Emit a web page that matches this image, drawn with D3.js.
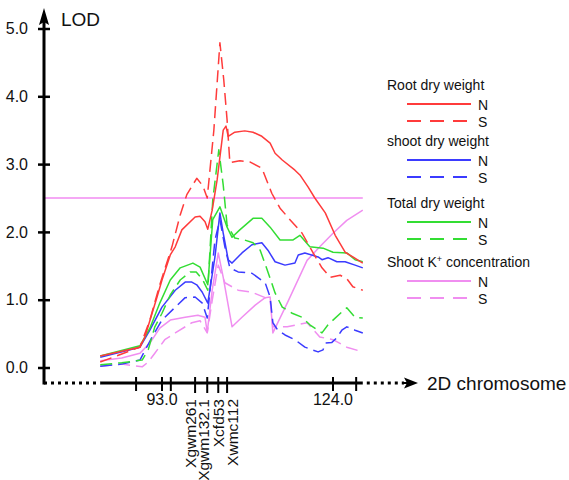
<!DOCTYPE html>
<html><head><meta charset="utf-8">
<script src="https://cdn.jsdelivr.net/npm/d3@7"></script>
<style>body{margin:0;background:#fff}svg{display:block}text{font-family:"Liberation Sans",Arial,sans-serif;fill:#111}</style>
</head><body><svg id="c" width="569" height="480"></svg>
<script>
// ---- data (position in cM, LOD) ----
const rootN = [[81.8,0.17],[89.0,0.30],[89.9,0.45],[92.1,1.04],[93.0,1.29],[94.5,1.66],[95.4,1.78],[96.6,2.03],[99.0,2.22],[99.9,2.23],[100.8,2.15],[101.3,2.04],[102.1,2.32],[103.0,2.77],[104.1,3.50],[104.6,3.56],[105.0,3.41],[106.2,3.47],[108.0,3.49],[109.5,3.47],[111.1,3.41],[112.6,3.31],[113.5,3.16],[114.8,3.06],[117.1,2.91],[118.0,2.84],[119.5,2.66],[120.7,2.50],[122.6,2.28],[124.4,1.95],[126.2,1.70],[127.6,1.63],[129.4,1.54]];
const rootS = [[81.8,0.08],[85.7,0.20],[89.0,0.30],[90.8,0.70],[92.6,1.22],[94.8,1.78],[96.3,2.25],[97.5,2.55],[99.3,2.79],[100.4,2.68],[101.2,2.50],[102.4,3.50],[103.5,4.79],[104.2,4.24],[104.8,3.65],[105.3,3.02],[107.1,3.05],[109.0,3.03],[111.1,2.94],[112.9,2.57],[114.4,2.35],[116.2,2.18],[118.4,1.98],[120.4,1.69],[122.0,1.47],[123.5,1.33],[125.3,1.36],[126.5,1.31],[127.6,1.19],[129.4,1.14]];
const shootN = [[81.8,0.15],[89.0,0.30],[90.8,0.55],[93.0,0.89],[95.4,1.14],[97.2,1.26],[98.4,1.26],[99.3,1.22],[100.3,1.11],[101.3,0.95],[102.6,1.63],[103.5,2.28],[104.1,1.98],[105.0,1.59],[105.7,1.54],[107.5,1.69],[109.3,1.81],[111.1,1.84],[112.2,1.73],[113.5,1.56],[115.3,1.51],[117.1,1.54],[117.7,1.66],[118.9,1.69],[121.3,1.63],[122.0,1.59],[123.1,1.62],[124.7,1.56],[126.2,1.56],[128.0,1.51],[129.4,1.47]];
const shootS = [[81.8,0.02],[85.7,0.05],[89.0,0.11],[91.2,0.45],[93.0,0.70],[95.4,0.89],[97.2,1.03],[99.0,1.04],[100.3,0.95],[101.2,0.73],[102.6,1.88],[103.5,2.18],[104.4,1.78],[105.3,1.47],[106.8,1.41],[109.3,1.39],[111.7,1.25],[112.6,1.04],[113.1,0.66],[114.0,0.55],[115.3,0.48],[117.1,0.41],[118.9,0.30],[121.3,0.23],[122.2,0.26],[122.6,0.36],[123.8,0.37],[124.7,0.44],[125.6,0.55],[126.5,0.60],[128.0,0.55],[129.4,0.51]];
const totalN = [[81.8,0.17],[89.0,0.32],[90.8,0.58],[92.6,0.95],[94.5,1.29],[96.3,1.47],[98.6,1.54],[99.9,1.48],[101.3,1.22],[102.2,2.18],[103.5,2.37],[104.8,2.07],[105.7,1.92],[107.1,2.03],[109.5,2.20],[111.1,2.20],[112.6,2.07],[114.4,1.88],[116.7,1.88],[118.0,1.95],[119.8,1.78],[122.2,1.76],[124.0,1.70],[126.5,1.69],[128.0,1.59],[129.4,1.56]];
const totalS = [[81.8,0.04],[85.7,0.07],[89.4,0.11],[90.5,0.26],[91.7,0.60],[93.0,0.80],[94.5,1.07],[96.3,1.29],[98.1,1.41],[99.2,1.41],[100.4,1.29],[101.3,1.14],[102.2,2.47],[103.3,3.21],[104.1,2.69],[104.8,2.10],[106.2,1.91],[108.0,1.88],[109.5,1.84],[110.8,1.73],[112.2,1.41],[113.5,1.10],[114.8,0.89],[116.6,0.80],[118.4,0.74],[119.8,0.63],[122.0,0.51],[123.1,0.63],[125.6,0.82],[126.5,0.88],[128.0,0.74],[129.4,0.73]];
const kN = [[81.8,0.10],[85.7,0.14],[89.0,0.21],[90.8,0.36],[92.6,0.58],[94.5,0.70],[97.2,0.74],[99.5,0.77],[100.8,0.74],[101.2,0.52],[102.1,1.14],[103.2,1.69],[104.1,1.33],[105.7,0.60],[107.5,0.74],[109.9,0.92],[111.7,1.03],[112.6,1.04],[113.1,0.51],[115.7,0.95],[119.3,1.58],[121.6,1.78],[124.0,1.98],[126.5,2.17],[129.4,2.32]];
const kS = [[81.8,0.02],[85.7,0.05],[89.4,0.01],[90.5,0.08],[91.7,0.21],[93.5,0.41],[95.4,0.51],[98.4,0.66],[99.9,0.69],[101.2,0.51],[102.1,0.99],[103.2,1.51],[104.4,1.25],[106.8,1.14],[109.3,1.11],[111.7,1.03],[112.6,1.00],[113.1,0.60],[115.7,0.60],[119.3,0.66],[121.6,0.45],[124.0,0.41],[126.5,0.30],[129.4,0.23]];

const traits = ["Root dry weight","shoot dry weight","Total dry weight","Shoot K+ concentration"];
const conditions = ["N","S"];
const yTicks = [0,1,2,3,4,5];
const xTickLabels = [93.0,124.0];
const axisTicks = [88.3,93.0,94.6,124.0,128.2];
const markerNames = ["Xgwm261","Xgwm132.1","Xcfd53","Xwmc112"];
const markerPos = [99.0,101.2,103.2,104.8];
const threshold = 2.5;
const xEnd = 129.4;

const colors = ["#ff3b3b","#3b3bff","#33dd33","#f08ef0"];
const seriesData = [[rootN,rootS],[shootN,shootS],[totalN,totalS],[kN,kS]];

const svg = d3.select("#c");
const x = d3.scaleLinear().domain([93,124]).range([162,333]);
const y = d3.scaleLinear().domain([0,5]).range([367.5,28.5]);
const axisX = 44, axisY = 383;

// threshold line
svg.append("line").attr("x1",axisX).attr("x2",x(xEnd)).attr("y1",y(threshold)).attr("y2",y(threshold))
  .attr("stroke","#f5a8f5").attr("stroke-width",2);

// series
const line = d3.line().x(d=>x(d[0])).y(d=>y(d[1]));
const order = [3,1,2,0];
order.forEach(i=>{
  seriesData[i].forEach((data,j)=>{
    svg.append("path").attr("d",line(data)).attr("fill","none")
      .attr("stroke",colors[i]).attr("stroke-width",1.5)
      .attr("stroke-dasharray",j===1?"12,6":null).attr("stroke-linejoin","round");
  });
});

// y axis
svg.append("line").attr("x1",axisX).attr("x2",axisX).attr("y1",axisY+1.5).attr("y2",20)
  .attr("stroke","#000").attr("stroke-width",3);
svg.append("path").attr("d",`M${axisX},8 L${axisX-5},25 L${axisX},22 L${axisX+5},25 Z`).attr("fill","#000");
const yAxis = svg.append("g").attr("transform",`translate(${axisX},0)`)
  .call(d3.axisLeft(y).tickValues(yTicks).tickFormat(d3.format(".1f")).tickSize(6).tickPadding(10));
yAxis.select(".domain").remove();
yAxis.selectAll(".tick line").attr("x1",-6).attr("x2",6).attr("stroke","#000").attr("stroke-width",2.5);
yAxis.selectAll(".tick text").attr("font-size",16).attr("font-family","Liberation Sans, Arial, sans-serif").attr("fill","#111");
svg.append("text").attr("x",61).attr("y",26).attr("font-size",19).text("LOD");

// x axis
svg.append("line").attr("x1",axisX).attr("x2",x(81.8)).attr("y1",axisY).attr("y2",axisY)
  .attr("stroke","#000").attr("stroke-width",3).attr("stroke-dasharray","3,4");
svg.append("line").attr("x1",x(81.8)).attr("x2",x(xEnd)).attr("y1",axisY).attr("y2",axisY)
  .attr("stroke","#000").attr("stroke-width",3);
svg.append("line").attr("x1",x(xEnd)+4).attr("x2",404).attr("y1",axisY).attr("y2",axisY)
  .attr("stroke","#000").attr("stroke-width",3).attr("stroke-dasharray","3,4");
svg.append("line").attr("x1",402).attr("x2",412).attr("y1",axisY).attr("y2",axisY)
  .attr("stroke","#000").attr("stroke-width",2);
svg.append("path").attr("d",`M418,${axisY} L404,${axisY-5.5} L407,${axisY} L404,${axisY+5.5} Z`).attr("fill","#000");
svg.append("text").attr("x",427).attr("y",axisY+7).attr("font-size",19).text("2D chromosome");

axisTicks.forEach(t=>{
  svg.append("line").attr("x1",x(t)).attr("x2",x(t)).attr("y1",axisY-6).attr("y2",axisY+8)
    .attr("stroke","#000").attr("stroke-width",2);
});
xTickLabels.forEach(t=>{
  svg.append("text").attr("x",x(t)).attr("y",axisY+22).attr("text-anchor","middle")
    .attr("font-size",16).text(d3.format(".1f")(t));
});
const labelShift = [-5,-4,0,5];
markerPos.forEach((m,i)=>{
  svg.append("line").attr("x1",x(m)).attr("x2",x(m)).attr("y1",axisY-6).attr("y2",axisY+10)
    .attr("stroke","#000").attr("stroke-width",2);
  svg.append("text").attr("transform",`translate(${x(m)+labelShift[i]+5.5},${axisY+16}) rotate(-90)`)
    .attr("text-anchor","end").attr("font-size",15.5).text(markerNames[i]);
});

// legend
const titleY = [90,146,208,267];
traits.forEach((t,i)=>{
  const tx = svg.append("text").attr("x",387).attr("y",titleY[i]).attr("font-size",14);
  if (t.includes("K+")) {
    tx.append("tspan").text("Shoot K");
    tx.append("tspan").attr("font-size",9).attr("dy",-5).text("+");
    tx.append("tspan").attr("dy",5).text(" concentration");
  } else tx.text(t);
  conditions.forEach((c,j)=>{
    const ly = titleY[i] + 14 + j*17;
    svg.append("line").attr("x1",407).attr("x2",j===0?471:467).attr("y1",ly).attr("y2",ly)
      .attr("stroke",colors[i]).attr("stroke-width",2).attr("stroke-dasharray",j===1?"14,9":null);
    svg.append("text").attr("x",478).attr("y",ly+6).attr("font-size",14).text(c);
  });
});
</script></body></html>
